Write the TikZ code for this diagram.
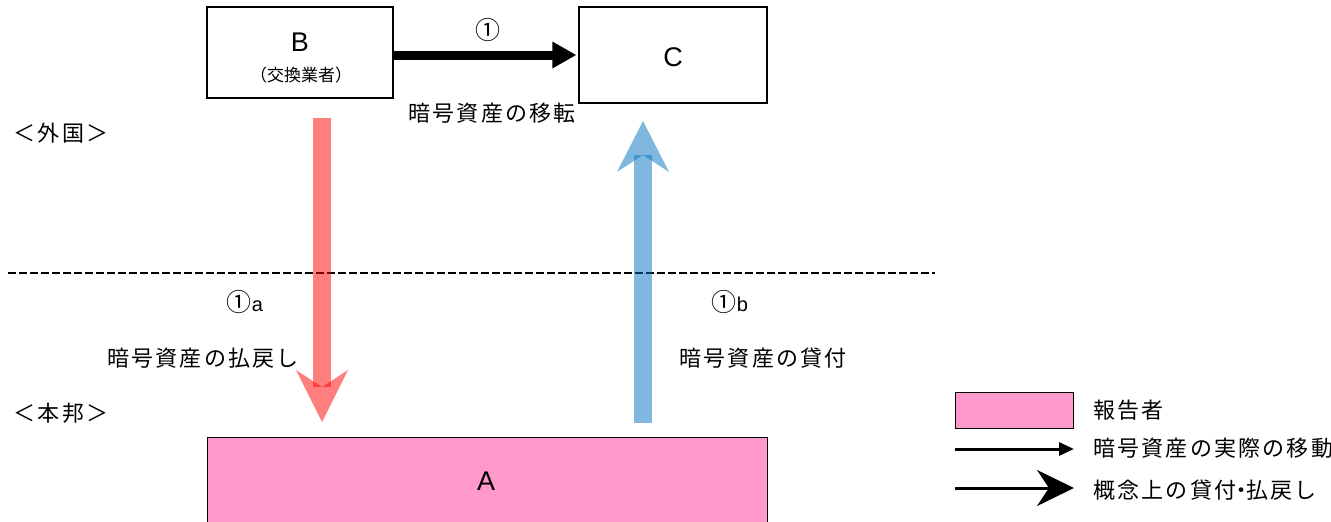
\documentclass[tikz,border=0pt]{standalone}
\usepackage{fontspec}
\setmainfont{Liberation Sans}
\newfontfamily\jp{Noto Sans CJK JP}[LetterSpace=10]
\newfontfamily\jpplain{Noto Sans CJK JP}
\newcommand\circfont{\jpplain\fontsize{25}{27}\selectfont}
\usetikzlibrary{arrows.meta,calc}
\definecolor{pinkfill}{RGB}{255,153,204}
\definecolor{redarrow}{RGB}{255,0,0}
\definecolor{bluearrow}{RGB}{0,112,192}
\tikzset{
  box/.style={draw=black, line width=1.2pt, fill=white, inner sep=0pt},
  jplabel/.style={font=\jp\fontsize{22}{24}\selectfont, inner sep=0pt},
  letter/.style={font=\fontsize{27}{30}\selectfont, inner sep=0pt},
  numlabel/.style={font=\fontsize{20}{22}\selectfont, inner sep=0pt},
  bigarrow/.style={fill opacity=0.5, draw=none},
}
\begin{document}
\begin{tikzpicture}[x=1pt,y=-1pt]
\useasboundingbox (0,0) rectangle (1331,522);
\clip (0,0) rectangle (1331,522);
\fill[white] (0,0) rectangle (1331,522);

% boxes
\node[box, minimum width=186pt, minimum height=91pt] (B) at (300,52.5) {};
\node[letter] (Bt) at (300,42) {B};
\node[inner sep=0pt, font=\jpplain\fontsize{17}{19}\selectfont] (Bs) at (301,75) {（交換業者）};
\node[box, minimum width=188pt, minimum height=96pt] (C) at (673,55) {};
\node[letter] (Ct) at (673,57) {C};
\node[box, fill=pinkfill, minimum width=560pt, minimum height=120pt, anchor=north west] (A) at (207,437) {};
\node[letter] (At) at (486,481) {A};

% transfer arrow B -> C
\draw[line width=9pt, -{Triangle[length=24pt,width=25pt]}] (B.east |- C.west) -- ([xshift=-2pt]C.west);
\node[inner sep=0pt, font=\circfont] (n1) at (488,30) {①};
\node[jplabel] (t1) at (492,113) {暗号資産の移転};

% region labels
\node[jplabel] (foreign) at (61,133) {＜外国＞};
\node[jplabel] (home) at (61,413) {＜本邦＞};

% border line
\coordinate (dl) at (8,273);
\coordinate (dr) at (935,273);
\draw[line width=2pt, dash pattern=on 8pt off 3pt] (dl) -- (dr);

% red arrow (repayment)
\coordinate (rtop) at (322,118);
\coordinate (rtip) at (322,422);
\fill[bigarrow, redarrow] ($(rtop)+(-9,0)$) rectangle ($(rtip)+(9,-35)$);
\fill[bigarrow, redarrow] (rtip) -- ($(rtip)+(-26,-52)$) -- ($(rtip)+(0,-35)$) -- ($(rtip)+(26,-52)$) -- cycle;
\node[numlabel] (n1a) at (245,302) {{\circfont ①}a};
\node[jplabel] (t2) at (203,358) {暗号資産の払戻し};

% blue arrow (lending)
\coordinate (bbot) at (643,423);
\coordinate (btip) at (643,121);
\fill[bigarrow, bluearrow] ($(bbot)+(-9,0)$) rectangle ($(btip)+(9,34)$);
\fill[bigarrow, bluearrow] (btip) -- ($(btip)+(-26,51)$) -- ($(btip)+(0,34)$) -- ($(btip)+(26,51)$) -- cycle;
\node[numlabel] (n1b) at (730,302) {{\circfont ①}b};
\node[jplabel] (t3) at (763,358) {暗号資産の貸付};

% legend
\node[draw=black, line width=1pt, fill=pinkfill, minimum width=118pt, minimum height=36pt, anchor=north west, inner sep=0pt] (L1) at (955,392) {};
\node[jplabel, anchor=west] (L1t) at (1093,410) {報告者};
\coordinate (L2a) at (955,449);
\coordinate (L2b) at (1074,449);
\draw[line width=3pt, -{Triangle[length=15pt,width=13pt]}] (L2a) -- (L2b);
\node[jplabel, anchor=west] (L2t) at (1093,448) {暗号資産の実際の移動};
\coordinate (L3a) at (955,488);
\coordinate (L3b) at (1074,488);
\draw[line width=3pt, -{Stealth[length=37pt,width=36pt,inset=12pt]}] (L3a) -- (L3b);
\node[jplabel, anchor=west] (L3t) at (1093,490) {概念上の貸付\kern-6pt・\kern-6pt 払戻し};
\end{tikzpicture}
\end{document}
